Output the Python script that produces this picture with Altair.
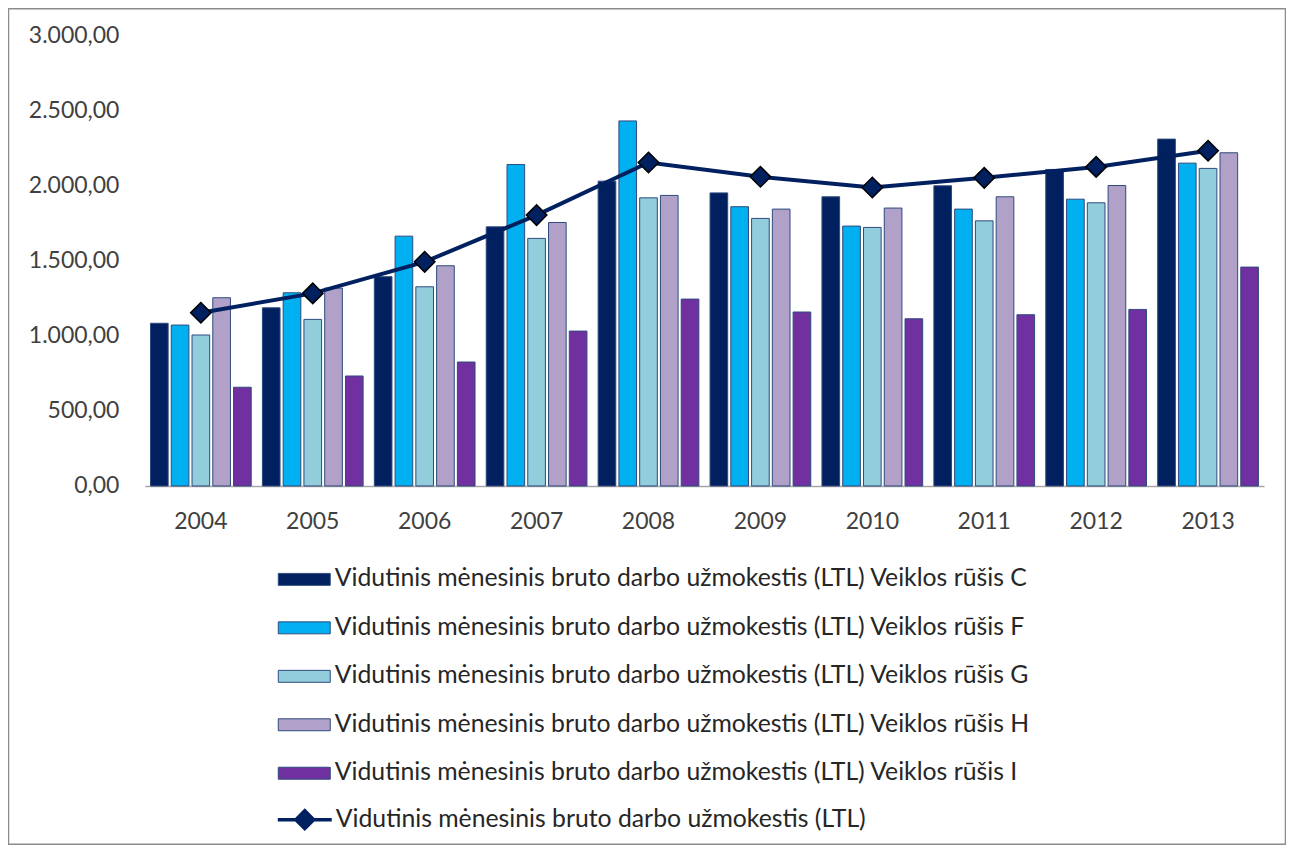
import altair as alt
import pandas as pd

years = ["2004", "2005", "2006", "2007", "2008", "2009", "2010", "2011", "2012", "2013"]
bar_series = [
    "Vidutinis mėnesinis bruto darbo užmokestis (LTL) Veiklos rūšis C",
    "Vidutinis mėnesinis bruto darbo užmokestis (LTL) Veiklos rūšis F",
    "Vidutinis mėnesinis bruto darbo užmokestis (LTL) Veiklos rūšis G",
    "Vidutinis mėnesinis bruto darbo užmokestis (LTL) Veiklos rūšis H",
    "Vidutinis mėnesinis bruto darbo užmokestis (LTL) Veiklos rūšis I",
]
line_series = "Vidutinis mėnesinis bruto darbo užmokestis (LTL)"

vals_C = [1083, 1186, 1393, 1725, 2029, 1951, 1925, 1998, 2107, 2309]
vals_F = [1071, 1286, 1663, 2140, 2430, 1859, 1730, 1843, 1909, 2149]
vals_G = [1005, 1109, 1326, 1648, 1918, 1781, 1721, 1765, 1885, 2114]
vals_H = [1253, 1317, 1466, 1754, 1934, 1843, 1850, 1925, 2000, 2218]
vals_I = [657, 732, 825, 1031, 1244, 1158, 1113, 1140, 1175, 1457]
vals_avg = [1153, 1282, 1492, 1803, 2153, 2058, 1987, 2051, 2124, 2231]

bar_colors = ["#002060", "#00B0F0", "#92CDDC", "#B1A0C7", "#7030A0"]
line_color = "#002060"
FONT = "Lato"
AXIS_FS = 23
LEG_FS = 24.8

rows = []
for name, vals in zip(bar_series, [vals_C, vals_F, vals_G, vals_H, vals_I]):
    for y, v in zip(years, vals):
        rows.append({"year": y, "series": name, "value": v})
bars_df = pd.DataFrame(rows)
line_df = pd.DataFrame({"year": years, "value": vals_avg, "lseries": [line_series] * len(years)})

x_enc = alt.X(
    "year:N",
    sort=years,
    scale=alt.Scale(paddingInner=0.1, paddingOuter=0.05),
    axis=alt.Axis(
        title=None, labelAngle=0, ticks=False, domainColor="#A6A6A6", domainWidth=1.5,
        labelFontSize=AXIS_FS, labelFont=FONT, labelColor="#404040", labelPadding=25,
    ),
)
y_enc = alt.Y(
    "value:Q",
    scale=alt.Scale(domain=[0, 3000], nice=False),
    axis=alt.Axis(
        title=None, values=[0, 500, 1000, 1500, 2000, 2500, 3000], format=",.2f",
        grid=False, domain=False, ticks=False, labelFontSize=AXIS_FS, labelFont=FONT,
        labelColor="#404040", labelPadding=26,
    ),
)

bars = alt.Chart(bars_df).mark_bar(stroke="#2E4A7D", strokeWidth=1).encode(
    x=x_enc,
    y=y_enc,
    xOffset=alt.XOffset("series:N", sort=bar_series, scale=alt.Scale(paddingInner=0.15, paddingOuter=0)),
    color=alt.Color(
        "series:N",
        scale=alt.Scale(domain=bar_series, range=bar_colors),
        legend=alt.Legend(
            orient="none", legendX=133, legendY=518, title=None, direction="vertical",
            symbolType="M-1,-0.23H1V0.23H-1Z", symbolSize=2704, symbolStrokeColor="#2E4A7D",
            symbolStrokeWidth=1, labelFontSize=LEG_FS, labelFont=FONT, labelColor="#262626",
            rowPadding=9.5, labelOffset=4, padding=0, labelLimit=0,
        ),
    ),
)

line = alt.Chart(line_df).mark_line(strokeWidth=4).encode(
    x=alt.X("year:N", sort=years),
    y="value:Q",
    stroke=alt.Stroke(
        "lseries:N",
        scale=alt.Scale(domain=[line_series], range=[line_color]),
        legend=alt.Legend(
            orient="none", legendX=131, legendY=756, title=None,
            symbolType="M-1,0H1M0,-0.33L0.33,0L0,0.33L-0.33,0Z", symbolSize=2916,
            symbolStrokeWidth=3.5, symbolFillColor=line_color, labelFontSize=LEG_FS,
            labelFont=FONT, labelColor="#262626", labelOffset=2, padding=0, labelLimit=0,
        ),
    ),
)

points = alt.Chart(line_df).mark_point(
    shape="diamond", filled=True, size=420, fill=line_color, stroke="#000000",
    strokeWidth=1.5, opacity=1,
).encode(
    x=alt.X("year:N", sort=years),
    y="value:Q",
)

frame = alt.Chart(pd.DataFrame({"a": [0]})).mark_rect(
    filled=False, stroke="#8C8C8C", strokeWidth=1.5
).encode(
    x=alt.value(-136.5), x2=alt.value(1141.5), y=alt.value(-26.5), y2=alt.value(809.5)
)

chart = alt.layer(bars, line, points, frame).resolve_scale(color="independent").properties(
    width=1120,
    height=451,
    autosize=alt.AutoSizeParams(type="none"),
    padding={"left": 137, "top": 27, "right": 22, "bottom": 359},
).configure(
    locale={"number": {"decimal": ",", "thousands": ".", "grouping": [3], "currency": ["", " €"]}}
).configure_view(stroke=None)

chart.save("out.html", embed_options={"renderer": "svg", "actions": False})
